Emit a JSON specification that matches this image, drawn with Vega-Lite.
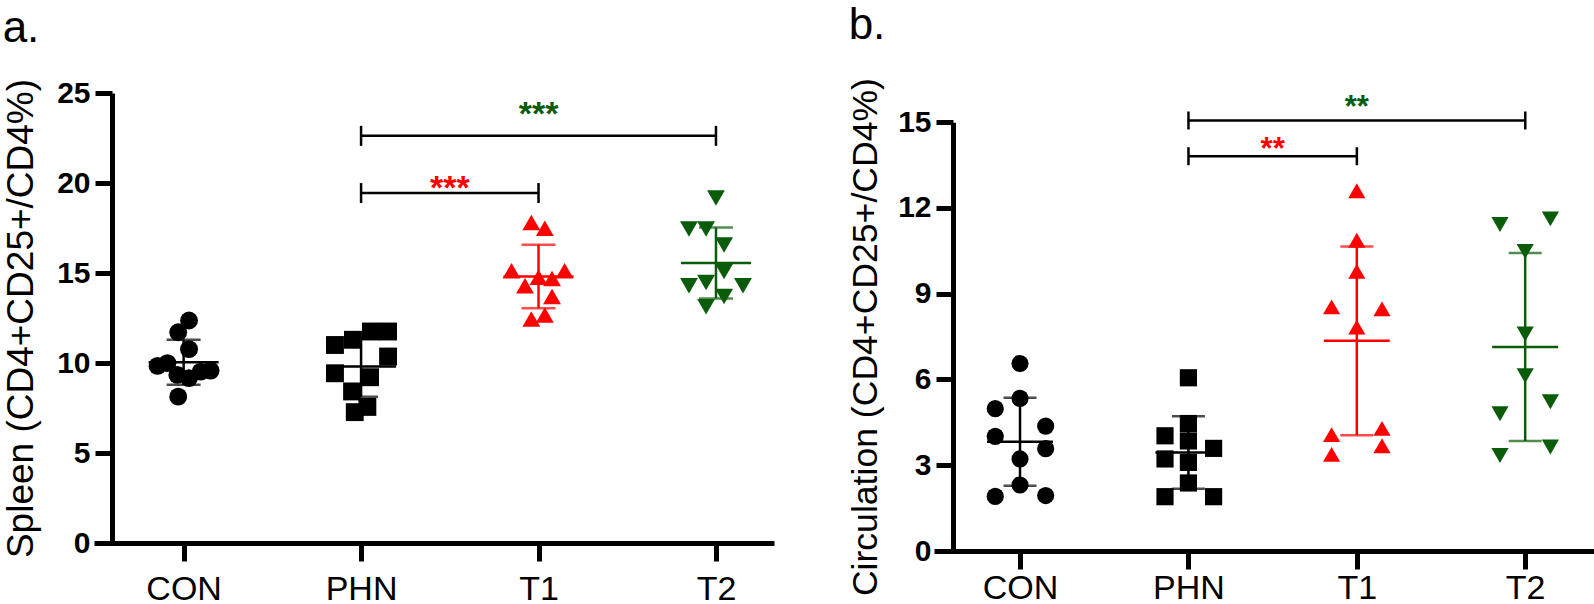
{
  "$schema": "https://vega.github.io/schema/vega-lite/v6.json",
  "padding": {"left": 2, "top": 3, "right": 0, "bottom": 0},
  "background": "white",
  "datasets": {
    "pa": [
      {"grp":"CON","v":12.36,"j":0.6},
      {"grp":"CON","v":11.71,"j":-0.6},
      {"grp":"CON","v":10.77,"j":0.6},
      {"grp":"CON","v":9.84,"j":-2.9},
      {"grp":"CON","v":9.99,"j":-1.8},
      {"grp":"CON","v":9.34,"j":-0.7},
      {"grp":"CON","v":9.16,"j":0.6},
      {"grp":"CON","v":9.52,"j":1.9},
      {"grp":"CON","v":9.58,"j":3.0},
      {"grp":"CON","v":8.13,"j":-0.6},
      {"grp":"PHN","v":11.75,"j":1.1},
      {"grp":"PHN","v":11.75,"j":3.0},
      {"grp":"PHN","v":11.29,"j":-0.9},
      {"grp":"PHN","v":11.0,"j":-2.9},
      {"grp":"PHN","v":10.36,"j":3.0},
      {"grp":"PHN","v":9.43,"j":-2.9},
      {"grp":"PHN","v":9.21,"j":1.0},
      {"grp":"PHN","v":8.42,"j":-1.0},
      {"grp":"PHN","v":7.56,"j":0.7},
      {"grp":"PHN","v":7.27,"j":-0.7},
      {"grp":"T1","v":17.8,"j":-0.8},
      {"grp":"T1","v":17.49,"j":0.7},
      {"grp":"T1","v":15.12,"j":-3.0},
      {"grp":"T1","v":14.77,"j":0},
      {"grp":"T1","v":14.69,"j":1.5},
      {"grp":"T1","v":15.12,"j":2.9},
      {"grp":"T1","v":14.29,"j":-1.5},
      {"grp":"T1","v":13.69,"j":1.5},
      {"grp":"T1","v":12.44,"j":-0.8},
      {"grp":"T1","v":12.67,"j":0.7},
      {"grp":"T2","v":19.16,"j":0},
      {"grp":"T2","v":17.44,"j":-3.0},
      {"grp":"T2","v":17.44,"j":-1.1},
      {"grp":"T2","v":16.56,"j":0.9},
      {"grp":"T2","v":15.08,"j":0.9},
      {"grp":"T2","v":14.29,"j":-3.0},
      {"grp":"T2","v":14.47,"j":-1.1},
      {"grp":"T2","v":14.29,"j":3.0},
      {"grp":"T2","v":13.69,"j":0.9},
      {"grp":"T2","v":13.13,"j":-1.1}
    ],
    "pb": [
      {"grp":"CON","v":6.56,"j":0},
      {"grp":"CON","v":4.98,"j":-2.75},
      {"grp":"CON","v":5.34,"j":0},
      {"grp":"CON","v":4.37,"j":2.85},
      {"grp":"CON","v":4.01,"j":-2.75},
      {"grp":"CON","v":3.58,"j":2.85},
      {"grp":"CON","v":3.22,"j":0},
      {"grp":"CON","v":2.31,"j":0},
      {"grp":"CON","v":1.91,"j":-2.75},
      {"grp":"CON","v":1.94,"j":2.85},
      {"grp":"PHN","v":6.06,"j":0},
      {"grp":"PHN","v":4.46,"j":0},
      {"grp":"PHN","v":3.85,"j":0},
      {"grp":"PHN","v":3.1,"j":0},
      {"grp":"PHN","v":2.38,"j":0},
      {"grp":"PHN","v":4.03,"j":-2.6},
      {"grp":"PHN","v":3.22,"j":-2.6},
      {"grp":"PHN","v":1.9,"j":-2.6},
      {"grp":"PHN","v":3.59,"j":2.8},
      {"grp":"PHN","v":1.9,"j":2.8},
      {"grp":"T1","v":12.6,"j":0},
      {"grp":"T1","v":10.87,"j":0},
      {"grp":"T1","v":9.78,"j":0},
      {"grp":"T1","v":8.54,"j":-2.8},
      {"grp":"T1","v":8.47,"j":2.8},
      {"grp":"T1","v":7.83,"j":0},
      {"grp":"T1","v":4.07,"j":-2.8},
      {"grp":"T1","v":4.29,"j":2.8},
      {"grp":"T1","v":3.38,"j":-2.8},
      {"grp":"T1","v":3.68,"j":2.8},
      {"grp":"T2","v":11.42,"j":-2.8},
      {"grp":"T2","v":11.62,"j":2.8},
      {"grp":"T2","v":10.48,"j":0},
      {"grp":"T2","v":7.59,"j":0},
      {"grp":"T2","v":6.13,"j":0},
      {"grp":"T2","v":5.22,"j":2.8},
      {"grp":"T2","v":4.8,"j":-2.8},
      {"grp":"T2","v":3.34,"j":-2.8},
      {"grp":"T2","v":3.64,"j":2.8}
    ],
    "ca": [
      {"grp":"T1","from":2,"to":3,"mid":2.5,"y":19.44,"ys":20.18,"label":"***"},
      {"grp":"T2","from":2,"to":4,"mid":3,"y":22.62,"ys":24.29,"label":"***"}
    ],
    "cb": [
      {"grp":"T1","from":2,"to":3,"mid":2.5,"y":13.81,"ys":14.29,"label":"**"},
      {"grp":"T2","from":2,"to":4,"mid":3,"y":15.06,"ys":15.79,"label":"**"}
    ]
  },
  "config": {
    "view": {"stroke": null},
    "font": "Liberation Sans",
    "axis": {
      "grid": false,
      "domainColor": "black",
      "domainWidth": 5,
      "tickColor": "black",
      "tickWidth": 5,
      "labelColor": "black",
      "titleColor": "black",
      "labelFont": "Liberation Sans",
      "titleFont": "Liberation Sans"
    },
    "title": {"font": "Liberation Sans", "fontWeight": "normal", "fontSize": 44, "anchor": "start", "frame": "bounds", "color": "black"}
  },
  "spacing": 74,
  "hconcat": [
    {
      "title": {"text": "a.", "offset": 27.5},
      "width": 680,
      "height": 450,
      "resolve": {"scale": {"x": "independent"}, "axis": {"x": "independent"}},
      "layer": [
        {
          "data": {"name": "pa"},
          "layer": [
            {
              "mark": {"type": "errorbar", "extent": "stdev", "thickness": 2.5, "ticks": {"size": 34, "thickness": 2.5}},
              "encoding": {
                "x": {"field": "grp", "type": "nominal", "scale": {"type": "point", "domain": ["CON","PHN","T1","T2"], "padding": 0.416, "align": 0.607}},
                "y": {"field": "v", "type": "quantitative", "title": "Spleen (CD4+CD25+/CD4%)"},
                "color": {"field": "grp", "type": "nominal", "scale": {"domain": ["CON","PHN","T1","T2"], "range": ["#000000","#000000","#ff0000","#0a5c0a"]}, "legend": null}
              }
            },
            {
              "mark": {"type": "tick", "orient": "horizontal", "size": 70, "thickness": 2.5, "opacity": 1},
              "encoding": {
                "x": {"field": "grp", "type": "nominal"},
                "y": {"aggregate": "mean", "field": "v", "type": "quantitative", "title": "Spleen (CD4+CD25+/CD4%)"},
                "color": {"field": "grp", "type": "nominal", "legend": null}
              }
            },
            {
              "mark": {"type": "point", "filled": true, "opacity": 1, "size": 320},
              "encoding": {
                "x": {"field": "grp", "type": "nominal",
                      "axis": {"title": null, "labelAngle": 0, "labelAlign": "center", "labelBaseline": "top", "labelFontSize": 34, "labelFontWeight": "normal", "tickSize": 18, "labelPadding": 11}},
                "xOffset": {"field": "j", "type": "quantitative", "scale": {"domain": [-3, 3], "range": [-27, 27]}},
                "y": {"field": "v", "type": "quantitative", "scale": {"domain": [0, 25], "nice": false},
                      "axis": {"values": [0,5,10,15,20,25], "title": "Spleen (CD4+CD25+/CD4%)", "titleFontSize": 37, "titleFontWeight": "normal", "labelFontSize": 30, "labelFontWeight": "bold", "tickSize": 17, "labelPadding": 5, "offset": -18, "titlePadding": 16}},
                "color": {"field": "grp", "type": "nominal", "legend": null},
                "shape": {"field": "grp", "type": "nominal", "scale": {"domain": ["CON","PHN","T1","T2"], "range": ["circle","square","triangle-up","triangle-down"]}, "legend": null}
              }
            }
          ]
        },
        {
          "data": {"name": "ca"},
          "layer": [
            {
              "mark": {"type": "rule", "color": "black", "strokeWidth": 2.5},
              "encoding": {
                "x": {"field": "from", "type": "quantitative", "scale": {"domain": [0.495, 4.327], "nice": false, "zero": false}, "axis": null},
                "x2": {"field": "to"},
                "y": {"field": "y", "type": "quantitative", "title": "Spleen (CD4+CD25+/CD4%)"}
              }
            },
            {
              "mark": {"type": "tick", "orient": "vertical", "size": 20, "thickness": 2.5, "color": "black", "opacity": 1},
              "encoding": {
                "x": {"field": "from", "type": "quantitative"},
                "y": {"field": "y", "type": "quantitative", "title": "Spleen (CD4+CD25+/CD4%)"}
              }
            },
            {
              "mark": {"type": "tick", "orient": "vertical", "size": 20, "thickness": 2.5, "color": "black", "opacity": 1},
              "encoding": {
                "x": {"field": "to", "type": "quantitative"},
                "y": {"field": "y", "type": "quantitative", "title": "Spleen (CD4+CD25+/CD4%)"}
              }
            },
            {
              "mark": {"type": "text", "fontSize": 34, "fontWeight": "bold", "baseline": "middle", "align": "center", "dy": 9},
              "encoding": {
                "x": {"field": "mid", "type": "quantitative"},
                "y": {"field": "ys", "type": "quantitative", "title": "Spleen (CD4+CD25+/CD4%)"},
                "text": {"field": "label"},
                "color": {"field": "grp", "type": "nominal", "legend": null}
              }
            }
          ]
        }
      ]
    },
    {
      "title": {"text": "b.", "offset": 30},
      "width": 661,
      "height": 458,
      "resolve": {"scale": {"x": "independent"}, "axis": {"x": "independent"}},
      "layer": [
        {
          "data": {"name": "pb"},
          "layer": [
            {
              "mark": {"type": "errorbar", "extent": "stdev", "thickness": 2.5, "ticks": {"size": 33, "thickness": 2.5}},
              "encoding": {
                "x": {"field": "grp", "type": "nominal", "scale": {"type": "point", "domain": ["CON","PHN","T1","T2"], "padding": 0.4627, "align": 0.552}},
                "y": {"field": "v", "type": "quantitative", "title": "Circulation (CD4+CD25+/CD4%)"},
                "color": {"field": "grp", "type": "nominal", "scale": {"domain": ["CON","PHN","T1","T2"], "range": ["#000000","#000000","#ff0000","#0a5c0a"]}, "legend": null}
              }
            },
            {
              "mark": {"type": "tick", "orient": "horizontal", "size": 66, "thickness": 2.5, "opacity": 1},
              "encoding": {
                "x": {"field": "grp", "type": "nominal"},
                "y": {"aggregate": "mean", "field": "v", "type": "quantitative", "title": "Circulation (CD4+CD25+/CD4%)"},
                "color": {"field": "grp", "type": "nominal", "legend": null}
              }
            },
            {
              "mark": {"type": "point", "filled": true, "opacity": 1, "size": 295},
              "encoding": {
                "x": {"field": "grp", "type": "nominal",
                      "axis": {"title": null, "labelAngle": 0, "labelAlign": "center", "labelBaseline": "top", "labelFontSize": 34, "labelFontWeight": "normal", "tickSize": 18, "labelPadding": 2}},
                "xOffset": {"field": "j", "type": "quantitative", "scale": {"domain": [-3, 3], "range": [-27, 27]}},
                "y": {"field": "v", "type": "quantitative", "scale": {"domain": [0, 15], "nice": false, "range": [458, 29.2]},
                      "axis": {"values": [0,3,6,9,12,15], "title": "Circulation (CD4+CD25+/CD4%)", "titleFontSize": 35.6, "titleFontWeight": "normal", "labelFontSize": 30, "labelFontWeight": "bold", "tickSize": 17, "labelPadding": 5, "offset": -19, "titlePadding": 14}},
                "color": {"field": "grp", "type": "nominal", "legend": null},
                "shape": {"field": "grp", "type": "nominal", "scale": {"domain": ["CON","PHN","T1","T2"], "range": ["circle","square","triangle-up","triangle-down"]}, "legend": null}
              }
            }
          ]
        },
        {
          "data": {"name": "cb"},
          "layer": [
            {
              "mark": {"type": "rule", "color": "black", "strokeWidth": 2.5},
              "encoding": {
                "x": {"field": "from", "type": "quantitative", "scale": {"domain": [0.489, 4.414], "nice": false, "zero": false}, "axis": null},
                "x2": {"field": "to"},
                "y": {"field": "y", "type": "quantitative", "title": "Circulation (CD4+CD25+/CD4%)"}
              }
            },
            {
              "mark": {"type": "tick", "orient": "vertical", "size": 18, "thickness": 2.5, "color": "black", "opacity": 1},
              "encoding": {
                "x": {"field": "from", "type": "quantitative"},
                "y": {"field": "y", "type": "quantitative", "title": "Circulation (CD4+CD25+/CD4%)"}
              }
            },
            {
              "mark": {"type": "tick", "orient": "vertical", "size": 18, "thickness": 2.5, "color": "black", "opacity": 1},
              "encoding": {
                "x": {"field": "to", "type": "quantitative"},
                "y": {"field": "y", "type": "quantitative", "title": "Circulation (CD4+CD25+/CD4%)"}
              }
            },
            {
              "mark": {"type": "text", "fontSize": 31, "fontWeight": "bold", "baseline": "middle", "align": "center", "dy": 8},
              "encoding": {
                "x": {"field": "mid", "type": "quantitative"},
                "y": {"field": "ys", "type": "quantitative", "title": "Circulation (CD4+CD25+/CD4%)"},
                "text": {"field": "label"},
                "color": {"field": "grp", "type": "nominal", "legend": null}
              }
            }
          ]
        }
      ]
    }
  ],
  "resolve": {"scale": {"color": "shared", "shape": "shared"}}
}
